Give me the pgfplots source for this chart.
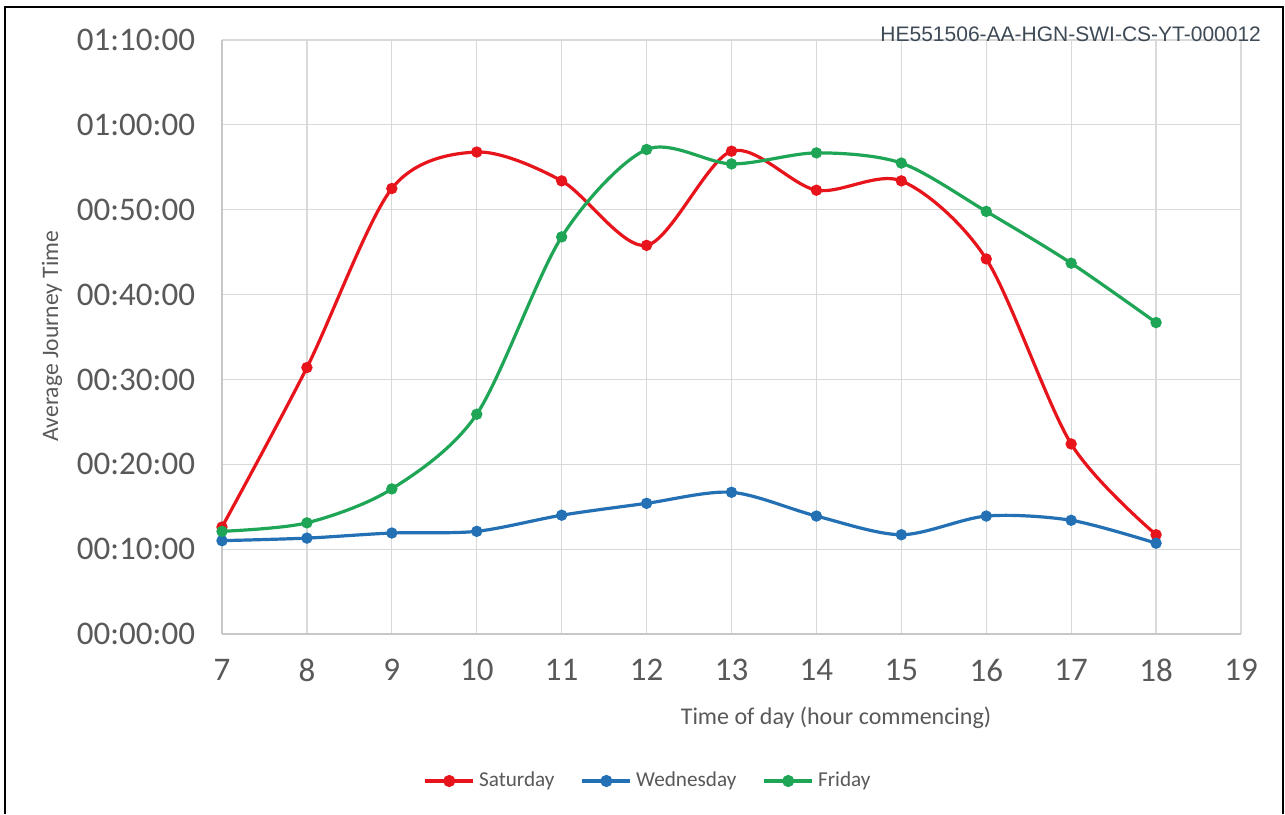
\documentclass[border=0pt]{standalone}
\usepackage{pgfplots}
\pgfplotsset{compat=1.18}
\usepackage{fontspec}
\setmainfont{Carlito}
\newfontfamily\arialfont{Liberation Sans}
\definecolor{satred}{HTML}{E8141C}
\definecolor{wedblue}{HTML}{2370B5}
\definecolor{frigreen}{HTML}{1EA555}
\definecolor{gridgray}{HTML}{D9D9D9}
\definecolor{ticktext}{HTML}{595959}
\definecolor{idtext}{HTML}{3E4A56}
\begin{document}
\begin{tikzpicture}
\useasboundingbox (-111pt,-90pt) rectangle (531.5pt,317pt);
\fill[white] (-111pt,-90pt) rectangle (531.5pt,317pt);
\draw[black, line width=1pt] (-108.5pt,-90pt) -- (-108.5pt,313.5pt) -- (530.5pt,313.5pt) -- (530.5pt,-90pt);
\begin{axis}[
  at={(0pt,0pt)}, anchor=origin,
  scale only axis,
  width=509.5pt, height=297pt,
  xmin=7, xmax=19, ymin=0, ymax=70,
  xtick={7,8,...,19},
  ytick={0,10,...,70},
  yticklabels={00:00:00,00:10:00,00:20:00,00:30:00,00:40:00,00:50:00,01:00:00,01:10:00},
  /pgf/number format/assume math mode=true,
  major tick length=0pt,
  grid=major,
  major grid style={gridgray, line width=0.6pt},
  axis line style={gridgray!80!gray, line width=0.7pt},
  axis x line*=bottom, axis y line*=left,
  tick label style={font=\fontsize{16.5}{18}\selectfont, text=ticktext},
  xticklabel style={yshift=-9pt},
  yticklabel style={xshift=-10pt},
  clip=false,
  every axis plot/.append style={line width=1.6pt, mark=*, mark size=2pt, smooth, tension=0.5},
  legend style={draw=none, fill=none, at={(213.5pt,-73.5pt)}, anchor=center,
     font=\fontsize{10.6}{12}\selectfont\color{ticktext}, legend columns=3,
     /tikz/every even column/.append style={column sep=11pt},
     /tikz/every odd column/.append style={inner xsep=1pt}},
  legend cell align=left,
  legend image code/.code={\draw[#1, line width=1.8pt] (0pt,0pt) -- (24pt,0pt); \fill[#1] (12pt,0pt) circle (2.2pt);},
]
\addplot[satred, mark options={fill=satred, draw=satred}] coordinates {
(7,12.6) (8,31.4) (9,52.5) (10,56.8) (11,53.4) (12,45.8) (13,56.9) (14,52.3) (15,53.4) (16,44.2) (17,22.4) (18,11.7)};
\addlegendentry{Saturday}
\addplot[wedblue, mark options={fill=wedblue, draw=wedblue}] coordinates {
(7,11.0) (8,11.3) (9,11.9) (10,12.1) (11,14.0) (12,15.4) (13,16.7) (14,13.9) (15,11.7) (16,13.9) (17,13.4) (18,10.7)};
\addlegendentry{Wednesday}
\addplot[frigreen, mark options={fill=frigreen, draw=frigreen}] coordinates {
(7,12.1) (8,13.1) (9,17.1) (10,25.9) (11,46.8) (12,57.1) (13,55.4) (14,56.7) (15,55.5) (16,49.8) (17,43.7) (18,36.7)};
\addlegendentry{Friday}
\end{axis}
\node[font=\fontsize{12}{13}\selectfont, text=ticktext] at (307pt,-42pt) {Time of day (hour commencing)};
\node[font=\fontsize{11.8}{13}\selectfont, text=ticktext, rotate=90] at (-85pt,149pt) {Average Journey Time};
\node[font=\arialfont\fontsize{10.5}{12}\selectfont, text=idtext, anchor=east] at (523pt,300pt) {HE551506-AA-HGN-SWI-CS-YT-000012};
\end{tikzpicture}
\end{document}
